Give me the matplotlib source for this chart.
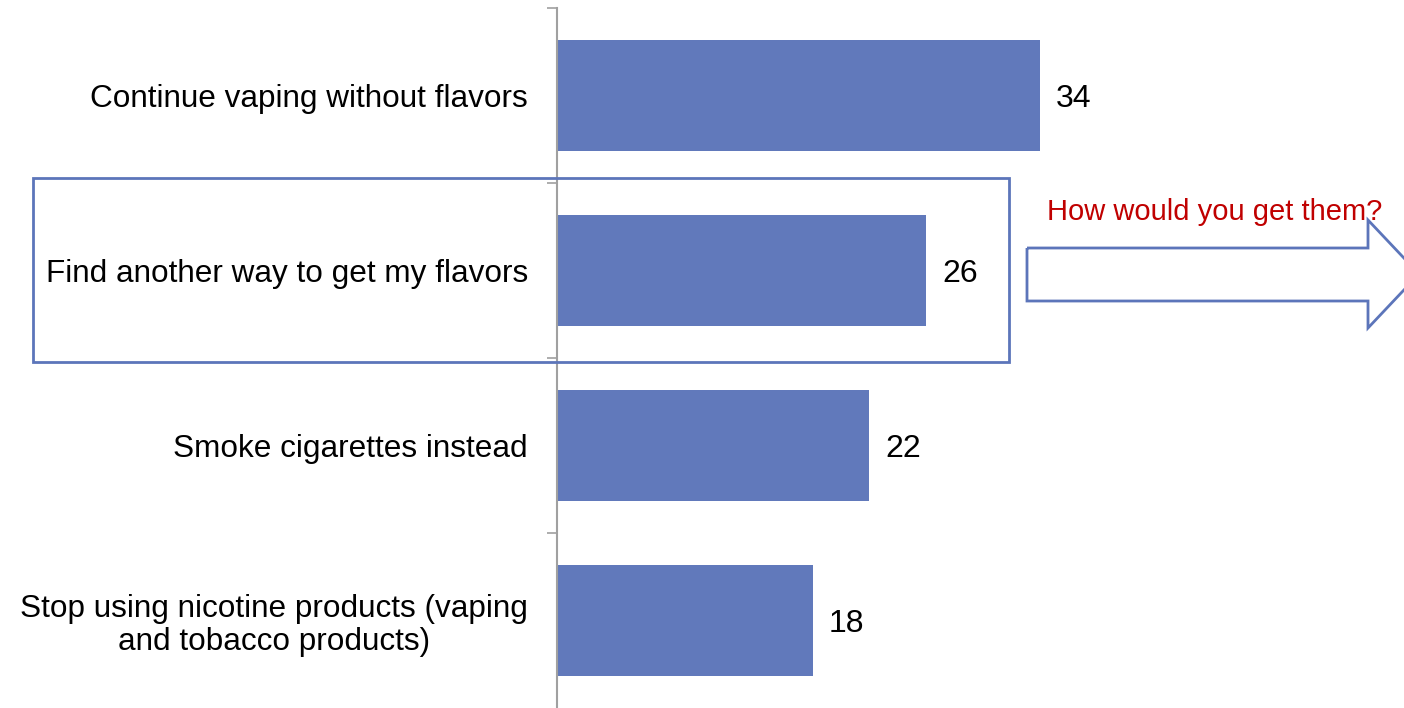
import matplotlib.pyplot as plt
from matplotlib.patches import Rectangle, Polygon

plt.rcParams['font.family'] = ['Liberation Sans', 'DejaVu Sans']

# data
answers = ['Continue vaping without flavors',
           'Find another way to get my flavors',
           'Smoke cigarettes instead',
           'Stop using nicotine products (vaping\nand tobacco products)']
percent = [34, 26, 22, 18]

bar_color = '#6179BB'
edge_blue = '#5C75BA'

W, H = 1404, 708
fig = plt.figure(figsize=(W / 100, H / 100), dpi=100)
ax = fig.add_axes([557 / W, 0, 1 - 557 / W, 1 - 8 / H])

pos = list(range(len(answers)))
ax.barh(pos, percent, height=0.63, color=bar_color)
for p, v in zip(pos, percent):
    ax.text(v + 1.15, p, str(v), va='center_baseline', ha='left', fontsize=23)

ax.set_xlim(0, (W - 557) / 14.2)
ax.set_ylim(len(answers) - 0.5, -0.5)

# labels at bar centres, small ticks on category borders
ax.set_yticks(pos)
ax.set_yticklabels(answers, fontsize=22.7, multialignment='center', linespacing=1.12)
ax.tick_params(axis='y', which='major', length=0, pad=21)
ax.set_yticks([p - 0.5 for p in pos], minor=True)
ax.tick_params(axis='y', which='minor', length=7, width=1.2, color='#A0A0A0')
ax.set_xticks([])

for s in ['top', 'right', 'bottom']:
    ax.spines[s].set_visible(False)
ax.spines['left'].set_color('#A0A0A0')
ax.spines['left'].set_linewidth(1.5)

# highlight box around second answer
def fx(x):
    return x / W

def fy(y):
    return 1 - y / H

fig.patches.append(Rectangle((fx(33), fy(362)), fx(1009) - fx(33), fy(178) - fy(362),
                             transform=fig.transFigure, fill=False,
                             edgecolor=edge_blue, linewidth=2))

# block arrow to the right
arrow_pts = [(1027, 248), (1368, 248), (1368, 220), (1419, 274),
             (1368, 328), (1368, 301), (1027, 301)]
fig.patches.append(Polygon([(fx(x), fy(y)) for x, y in arrow_pts], closed=True,
                           transform=fig.transFigure, fill=False,
                           edgecolor=edge_blue, linewidth=2, clip_on=False))

fig.text(fx(1215), fy(212), 'How would you get them?', color='#C00000',
         fontsize=21, ha='center', va='center')

fig.savefig('out.png', dpi=100)
